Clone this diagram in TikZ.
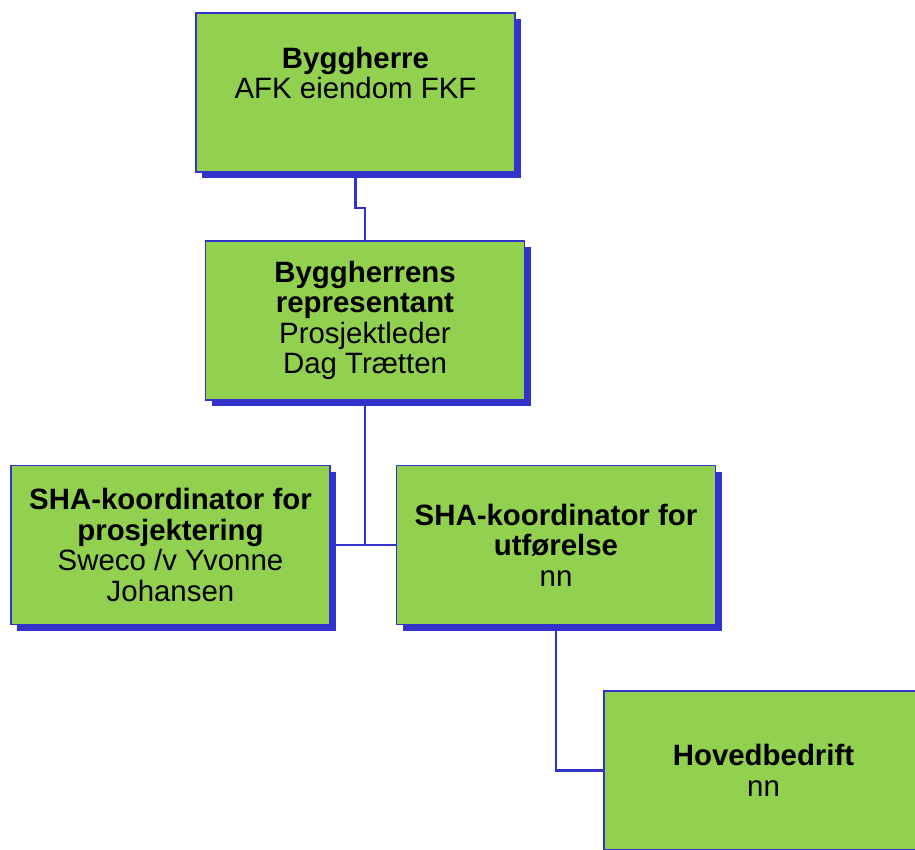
\documentclass[tikz,border=0pt]{standalone}
\usepackage{fontspec}
\setmainfont{Liberation Sans}
\usetikzlibrary{shadows,backgrounds}
\definecolor{boxgreen}{HTML}{92D050}
\definecolor{lineblue}{HTML}{3333CC}
\tikzset{
  orgbox/.style={draw=lineblue, line width=1.6pt, fill=boxgreen,
    minimum width=319pt, minimum height=159pt, inner sep=0pt,
    align=center, font=\fontsize{29.4}{30.4}\selectfont,
    drop shadow={shadow xshift=6pt, shadow yshift=-6pt, fill=lineblue, opacity=1}},
  orgline/.style={draw=lineblue, line width=2.1pt}
}
\begin{document}
\begin{tikzpicture}[x=1pt,y=-1pt]
\useasboundingbox (0,0) rectangle (915,849);
\clip (0,0) rectangle (915,849);
\node[orgbox] (b1) at (355.5,92.5) {\textbf{Byggherre}\\AFK eiendom FKF\\ \strut};
\node[orgbox] (b2) at (365,320.5) {\textbf{Byggherrens}\\\textbf{representant}\\Prosjektleder\\Dag Trætten};
\node[orgbox] (b3) at (170.5,545) {\textbf{SHA-koordinator for}\\\textbf{prosjektering}\\Sweco /v Yvonne\\Johansen};
\node[orgbox] (b4) at (556,545) {\textbf{SHA-koordinator for}\\\textbf{utførelse}\\nn};
\node[orgbox] (b5) at (763.5,770.5) {\textbf{Hovedbedrift}\\nn};
\coordinate (j1) at (356,208);
\begin{scope}[on background layer]
\draw[orgline] (b1.south) |- (j1) -| (b2.north);
\draw[orgline] (b2.south) -- (b2.south |- b3.east);
\draw[orgline] (b3.east) -- (b4.west);
\draw[orgline] (b4.south) |- (b5.west);
\end{scope}
\end{tikzpicture}
\end{document}
